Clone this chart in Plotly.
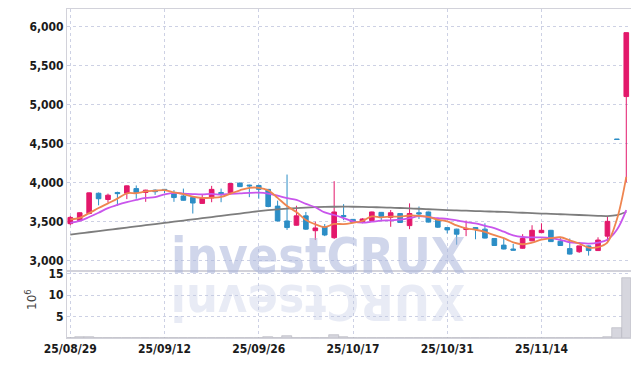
import plotly.graph_objects as go
from plotly.subplots import make_subplots

dates = ["25/08/29", "25/09/01", "25/09/02", "25/09/03", "25/09/04", "25/09/05",
         "25/09/08", "25/09/09", "25/09/10", "25/09/11", "25/09/12", "25/09/15",
         "25/09/16", "25/09/17", "25/09/18", "25/09/19", "25/09/22", "25/09/23",
         "25/09/24", "25/09/25", "25/09/26", "25/09/29", "25/09/30", "25/10/01",
         "25/10/02", "25/10/10", "25/10/13", "25/10/14", "25/10/15", "25/10/16",
         "25/10/17", "25/10/20", "25/10/21", "25/10/22", "25/10/23", "25/10/24",
         "25/10/27", "25/10/28", "25/10/29", "25/10/30", "25/10/31", "25/11/03",
         "25/11/04", "25/11/05", "25/11/06", "25/11/07", "25/11/10", "25/11/11",
         "25/11/12", "25/11/13", "25/11/14", "25/11/17", "25/11/18", "25/11/19",
         "25/11/20", "25/11/21", "25/11/24", "25/11/25", "25/11/26", "25/11/27"]

open_ = [3470, 3510, 3600, 3860, 3780, 3870, 3860, 3920, 3870, 3900,
         3910, 3855, 3825, 3805, 3730, 3800, 3870, 3865, 3990, 3965,
         3960, 3910, 3695, 3505, 3450, 3570, 3380, 3430, 3290, 3575,
         3525, 3485, 3510, 3615, 3550, 3600, 3445, 3610, 3620, 3515,
         3420, 3400, 3395, 3420, 3400, 3280, 3195, 3145, 3155, 3250,
         3355, 3385, 3245, 3150, 3110, 3185, 3125, 3310, 4555, 5100]
high = [3570, 3615, 3870, 3870, 3855, 3880, 3960, 3960, 3905, 3910,
        3915, 3900, 3920, 3810, 3840, 3955, 3920, 3990, 4000, 3970,
        3970, 3915, 3765, 4100, 3700, 3620, 3495, 3465, 4015, 3720,
        3530, 3540, 3625, 3620, 3645, 3605, 3730, 3690, 3625, 3520,
        3425, 3405, 3510, 3425, 3475, 3285, 3280, 3210, 3335, 3450,
        3475, 3390, 3300, 3280, 3185, 3190, 3295, 3560, 4555, 5920]
low = [3450, 3500, 3590, 3705, 3740, 3700, 3785, 3790, 3750, 3840,
       3860, 3750, 3765, 3600, 3725, 3745, 3745, 3860, 3940, 3810,
       3790, 3680, 3500, 3390, 3445, 3390, 3260, 3310, 3275, 3515,
       3480, 3475, 3500, 3505, 3430, 3480, 3400, 3530, 3485, 3415,
       3345, 3200, 3310, 3270, 3280, 3185, 3140, 3125, 3150, 3245,
       3350, 3235, 3185, 3075, 3095, 3060, 3120, 3220, 4550, 4000]
close = [3550, 3610, 3865, 3790, 3835, 3855, 3955, 3870, 3900, 3880,
         3895, 3805, 3770, 3735, 3795, 3910, 3855, 3985, 3945, 3955,
         3910, 3690, 3505, 3420, 3570, 3400, 3415, 3325, 3620, 3560,
         3485, 3530, 3620, 3560, 3610, 3485, 3600, 3595, 3490, 3425,
         3390, 3335, 3410, 3400, 3285, 3190, 3145, 3130, 3280, 3385,
         3385, 3240, 3190, 3080, 3185, 3125, 3260, 3500, 4550, 5920]

ma5 = [3525, 3545, 3605, 3670, 3730, 3791, 3860, 3861, 3883, 3892,
       3900, 3870, 3850, 3817, 3800, 3803, 3813, 3856, 3898, 3930,
       3930, 3897, 3801, 3696, 3619, 3517, 3462, 3426, 3466, 3464,
       3481, 3504, 3563, 3551, 3561, 3561, 3575, 3570, 3556, 3519,
       3500, 3447, 3410, 3392, 3364, 3322, 3284, 3230, 3206, 3226,
       3265, 3284, 3296, 3256, 3216, 3164, 3168, 3230, 3524, 4071]
ma10 = [3480, 3505, 3555, 3610, 3670, 3710, 3745, 3775, 3800, 3811,
        3846, 3865, 3856, 3850, 3846, 3852, 3842, 3853, 3858, 3865,
        3867, 3855, 3829, 3797, 3775, 3724, 3680, 3614, 3581, 3542,
        3499, 3483, 3495, 3509, 3513, 3521, 3540, 3567, 3554, 3540,
        3531, 3511, 3490, 3474, 3442, 3412, 3367, 3320, 3299, 3295,
        3294, 3284, 3263, 3231, 3222, 3215, 3227, 3264, 3391, 3644]
ma60 = [3330, 3345, 3360, 3375, 3390, 3405, 3420, 3435, 3450, 3465,
        3480, 3495, 3510, 3525, 3540, 3555, 3570, 3585, 3600, 3615,
        3630, 3643, 3654, 3663, 3670, 3676, 3681, 3685, 3687, 3688,
        3687, 3685, 3682, 3679, 3675, 3671, 3666, 3661, 3655, 3649,
        3644, 3640, 3636, 3632, 3628, 3624, 3620, 3615, 3610, 3605,
        3600, 3596, 3591, 3586, 3581, 3576, 3571, 3568, 3580, 3620]

volume = [80e3, 120e3, 250e3, 90e3, 60e3, 50e3, 80e3, 60e3, 50e3, 40e3,
          40e3, 50e3, 60e3, 70e3, 50e3, 80e3, 50e3, 90e3, 60e3, 50e3,
          60e3, 120e3, 110e3, 380e3, 100e3, 80e3, 70e3, 60e3, 750e3, 120e3,
          60e3, 50e3, 70e3, 50e3, 60e3, 50e3, 80e3, 60e3, 50e3, 50e3,
          40e3, 50e3, 40e3, 40e3, 50e3, 50e3, 40e3, 40e3, 60e3, 70e3,
          50e3, 40e3, 40e3, 50e3, 40e3, 40e3, 60e3, 180e3, 2300e3, 14000e3]

price_ticks = [3000, 3500, 4000, 4500, 5000, 5500, 6000]
vol_ticks = [5e6, 10e6, 15e6]
vol_labels = ["5", "10", "15"]
x_ticks = dates[::10]

UP = "#e3186b"
DOWN = "#2c8ec6"
FONT = "DejaVu Sans Condensed, Liberation Sans Narrow, sans-serif"
TICKFONT = dict(family=FONT, size=12, color="#1a1a1a", weight="bold")

# page body has an 8px default margin; figure sized so it fits the window
OFF = 8
W, H = 639 - OFF, 366 - OFF
L, T = 67 - OFF, 9 - OFF
R = W - (631 - OFF)
B = H - (338 - OFF)
plot_w = W - L - R
plot_h = H - T - B
split = (338 - 271) / plot_h


def px(sx):
    return (sx - 67) / plot_w


def py(sy):
    return (338 - sy) / plot_h


fig = make_subplots(rows=2, cols=1, shared_xaxes=True, vertical_spacing=0,
                    row_heights=[1 - split, split])

fig.add_trace(go.Candlestick(
    x=dates, open=open_, high=high, low=low, close=close,
    increasing=dict(line=dict(color=UP, width=1), fillcolor=UP),
    decreasing=dict(line=dict(color=DOWN, width=1), fillcolor=DOWN),
    showlegend=False, hoverinfo="skip"), row=1, col=1)

for vals, col in [(ma60, "#7d7d7d"), (ma10, "#c955ec"), (ma5, "#ef8550")]:
    fig.add_trace(go.Scatter(x=dates, y=vals, mode="lines",
                             line=dict(color=col, width=1.8, shape="spline"),
                             showlegend=False, hoverinfo="skip"), row=1, col=1)

fig.add_trace(go.Bar(x=dates, y=volume,
                     marker=dict(color="#d6d6de", line=dict(color="#b4b4bc", width=0.6)),
                     showlegend=False, hoverinfo="skip"), row=2, col=1)

grid = dict(showgrid=True, gridcolor="#cdd1e4", griddash="dot", gridwidth=1,
            showline=True, linecolor="#d2d2da", linewidth=1, mirror=True,
            zeroline=False, automargin=False)

fig.update_xaxes(type="category", range=[-0.35, 59.5], tickvals=x_ticks,
                 rangeslider=dict(visible=False), ticks="", **grid)
fig.update_xaxes(showticklabels=False, row=1, col=1)
fig.update_xaxes(ticktext=x_ticks, tickfont=TICKFONT, ticklabelstandoff=0, row=2, col=1)

fig.update_yaxes(range=[2863, 6223], tickvals=price_ticks, tickformat=",",
                 tickfont=TICKFONT, ticks="", row=1, col=1, **grid)
fig.update_yaxes(range=[0, 15.58e6], tickvals=vol_ticks, ticktext=vol_labels,
                 tickfont=TICKFONT, ticks="", row=2, col=1, **grid)

fig.add_annotation(text="investCRUX", xref="paper", yref="paper",
                   x=px(318), y=py(256), xanchor="center", yanchor="middle",
                   showarrow=False,
                   font=dict(family="DejaVu Sans Condensed, sans-serif", size=50,
                             color="rgba(170,180,218,0.55)", weight="bold"))
fig.add_annotation(text="XURCtsevni", xref="paper", yref="paper", textangle=180,
                   x=px(318), y=py(302), xanchor="center", yanchor="middle",
                   showarrow=False,
                   font=dict(family="DejaVu Sans Condensed, sans-serif", size=50,
                             color="rgba(190,198,226,0.35)", weight="bold"))
fig.add_annotation(text="10<sup>6</sup>", xref="paper", yref="paper", textangle=-90,
                   x=px(31), y=py(300),
                   xanchor="center", yanchor="middle", showarrow=False,
                   font=dict(family="DejaVu Sans, sans-serif", size=12, color="#444"))

fig.update_layout(width=W, height=H, margin=dict(l=L, r=R, t=T, b=B, autoexpand=False),
                  paper_bgcolor="white", plot_bgcolor="white",
                  bargap=0, hovermode=False)

fig.write_html("out.html", config={"displayModeBar": False})
